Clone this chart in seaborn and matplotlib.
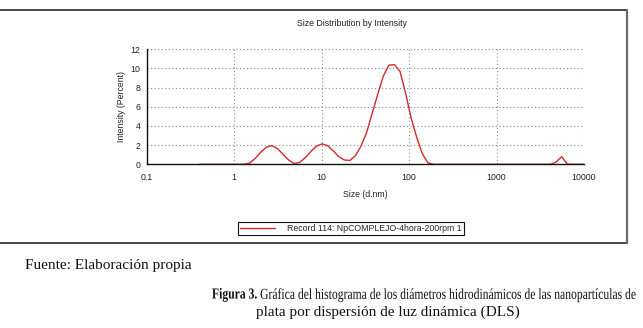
import matplotlib
matplotlib.use("Agg")
import numpy as np
import pandas as pd
import seaborn as sns
import matplotlib.pyplot as plt
from matplotlib.ticker import LogLocator, MultipleLocator, FixedLocator, FixedFormatter, NullFormatter
from matplotlib.lines import Line2D
from matplotlib.patheffects import AbstractPathEffect
from matplotlib.transforms import Affine2D

# ---------------- data ----------------
size_nm = [0.4, 0.4632, 0.5365, 0.6213, 0.7195, 0.8332, 0.9649, 1.117, 1.294, 1.499,
           1.736, 2.010, 2.328, 2.696, 3.122, 3.615, 4.187, 4.849, 5.615, 6.503,
           7.531, 8.721, 10.10, 11.70, 13.54, 15.69, 18.17, 21.04, 24.36, 28.21,
           32.67, 37.84, 43.82, 50.75, 58.77, 68.06, 78.82, 91.28, 105.7, 122.4,
           141.8, 164.2, 190.1, 220.2, 255.0, 295.3, 342.0, 396.1, 458.7, 531.2,
           615.1, 712.4, 825.0, 955.4, 1106, 1281, 1484, 1718, 1990, 2305,
           2669, 3091, 3580, 4145, 4801, 5560, 6439, 7456, 8635, 10000]
intensity = [0, 0, 0, 0, 0, 0, 0, 0, 0, 0.12,
             0.6, 1.25, 1.78, 1.94, 1.65, 1.05, 0.45, 0.08, 0.2, 0.69,
             1.34, 1.89, 2.13, 1.95, 1.42, 0.8, 0.45, 0.4, 0.9, 1.9,
             3.3, 5.3, 7.3, 9.2, 10.35, 10.4, 9.7, 7.4, 4.8, 2.8,
             1.1, 0.15, 0, 0, 0, 0, 0, 0, 0, 0,
             0, 0, 0, 0, 0, 0, 0, 0, 0, 0,
             0, 0, 0, 0, 0.25, 0.8, 0, 0, 0, 0]
x_ticks = [0.1, 1, 10, 100, 1000, 10000]
x_tick_labels = ["0.1", "1", "10", "100", "1000", "10000"]
y_ticks = [0, 2, 4, 6, 8, 10, 12]
y_tick_labels = ["0", "2", "4", "6", "8", "10", "12"]
series_label = "Record 114: NpCOMPLEJO-4hora-200rpm 1"
chart_title = "Size Distribution by Intensity"
x_label = "Size (d.nm)"
y_label = "Intensity (Percent)"
source_text = "Fuente: Elaboración propia"
caption_bold = "Figura 3."
caption_rest = "Gráfica del histograma de los diámetros hidrodinámicos de las nanopartículas de"
caption_line2 = "plata por dispersión de luz dinámica (DLS)"

df = pd.DataFrame({"size": size_nm, "intensity": intensity})

# ---------------- style ----------------
sns.set_style("white")
plt.rcParams["font.family"] = ["Liberation Sans", "DejaVu Sans"]

W, H = 643, 328
fig = plt.figure(figsize=(W / 100, H / 100), dpi=100)
fig.patch.set_facecolor("white")

ax_l, ax_r, ax_t, ax_b = 146.7, 584.0, 49.3, 164.3
ax = fig.add_axes([ax_l / W, 1 - ax_b / H, (ax_r - ax_l) / W, (ax_b - ax_t) / H])

sns.lineplot(data=df, x="size", y="intensity", ax=ax, color="#d42a2a",
             linewidth=1.0, estimator=None, sort=True, label=series_label)

ax.set_xscale("log")
ax.set_xlim(0.1, 10000)
ax.set_ylim(0, 12)

ax.xaxis.set_major_locator(FixedLocator(x_ticks))
ax.xaxis.set_major_formatter(FixedFormatter(x_tick_labels))
ax.xaxis.set_minor_locator(LogLocator(base=10, subs=np.arange(2, 10), numticks=50))
ax.xaxis.set_minor_formatter(NullFormatter())
ax.yaxis.set_major_locator(FixedLocator(y_ticks))
ax.yaxis.set_major_formatter(FixedFormatter(y_tick_labels))
ax.yaxis.set_minor_locator(MultipleLocator(1))

ax.grid(True, which="major", color="#8c8c8c", linestyle=(0, (1, 2.2)), linewidth=0.8)
ax.set_axisbelow(True)

for s in ["top", "right"]:
    ax.spines[s].set_visible(False)
for s in ["left", "bottom"]:
    ax.spines[s].set_color("#111111")
    ax.spines[s].set_linewidth(1.0)

ax.tick_params(axis="both", which="major", direction="inout", length=5, width=0.8,
               color="#111111", labelsize=6.3, labelcolor="#222222")
ax.tick_params(axis="x", which="major", pad=3.5)
ax.tick_params(axis="y", which="major", pad=2)
ax.tick_params(axis="both", which="minor", direction="inout", length=2.5, width=0.8,
               color="#111111")

ax.set_xlabel(x_label, fontsize=6.3, color="#222222", labelpad=6)
ax.set_ylabel(y_label, fontsize=6.3, color="#222222", labelpad=3)

fig.text(351.7 / W, 1 - 24 / H, chart_title, ha="center", va="center",
         fontsize=6.3, color="#222222")

# legend box
ax.legend(loc="center", bbox_to_anchor=(350.8 / W, 1 - 228.4 / H),
          bbox_transform=fig.transFigure, fontsize=6.3, frameon=True,
          fancybox=False, edgecolor="#111111", framealpha=1, borderpad=0.25,
          handlelength=4.0, handletextpad=1.4, borderaxespad=0)
leg = ax.get_legend()
leg.get_frame().set_linewidth(0.8)

# outer frame lines
frame_col = "#3c3c3c"
fig.add_artist(Line2D([0, 626.7 / W], [1 - 9.5 / H] * 2, transform=fig.transFigure,
                      color=frame_col, lw=1.3))
fig.add_artist(Line2D([0, 626.7 / W], [1 - 243 / H] * 2, transform=fig.transFigure,
                      color=frame_col, lw=1.3))
fig.add_artist(Line2D([626.7 / W] * 2, [1 - 9.5 / H, 1 - 243 / H], transform=fig.transFigure,
                      color="#6a6a6a", lw=1.6))

# ---------------- captions ----------------
serif = ["Liberation Serif", "DejaVu Serif"]
renderer = fig.canvas.get_renderer()


def width_px(t):
    return t.get_window_extent(renderer=renderer).width


class HSqueeze(AbstractPathEffect):
    """Horizontally condense glyphs around a fixed x (display px)."""

    def __init__(self, sx, x0):
        super().__init__()
        self.sx = sx
        self.x0 = x0

    def draw_path(self, renderer, gc, tpath, affine, rgbFace=None):
        aff = affine + Affine2D().translate(-self.x0, 0).scale(self.sx, 1).translate(self.x0, 0)
        renderer.draw_path(gc, tpath, aff, rgbFace)


t_src = fig.text(25 / W, 1 - 265 / H, source_text, family=serif, fontsize=10,
                 ha="left", va="center", color="#111111")
fs = 10 * 166 / width_px(t_src)
t_src.set_fontsize(fs)

# first caption line: condensed to span 212..636, anchored at its right end
line1_left, line1_right = 212, 636
t_r = fig.text(line1_right / W, 1 - 295 / H, " " + caption_rest, family=serif, fontsize=fs,
               ha="right", va="center", color="#111111")
wr = width_px(t_r)
t_b = fig.text((line1_right - wr) / W, 1 - 295 / H, caption_bold, family=serif, fontsize=fs,
               fontweight="bold", ha="right", va="center", color="#111111")
wb = width_px(t_b)
sx = (line1_right - line1_left) / (wr + wb)
for t in (t_b, t_r):
    t.set_path_effects([HSqueeze(sx, line1_right)])

t_2 = fig.text(388 / W, 1 - 312 / H, caption_line2, family=serif,
               fontsize=fs, ha="center", va="center", color="#111111")

fig.savefig("out.png", dpi=100, facecolor="white")
